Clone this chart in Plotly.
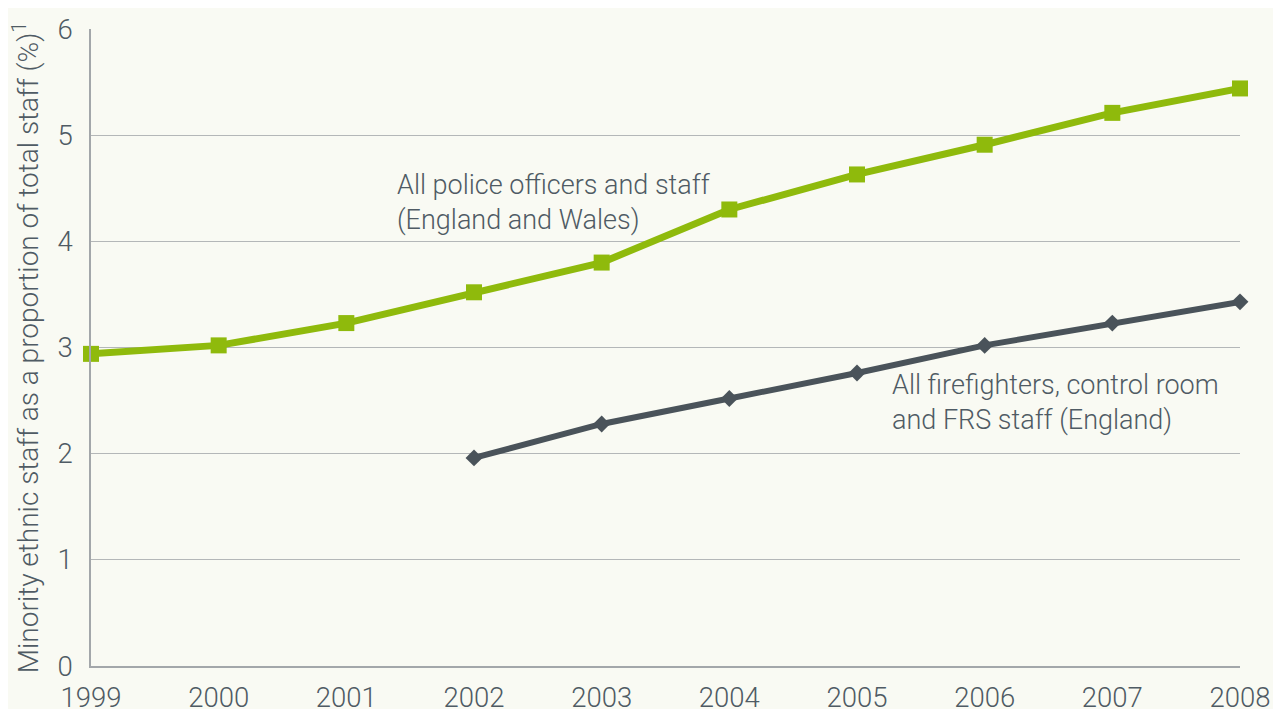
import plotly.graph_objects as go

years = [1999, 2000, 2001, 2002, 2003, 2004, 2005, 2006, 2007, 2008]
police = [2.94, 3.02, 3.23, 3.52, 3.80, 4.30, 4.63, 4.91, 5.21, 5.44]
fire_years = [2002, 2003, 2004, 2005, 2006, 2007, 2008]
fire = [1.96, 2.28, 2.52, 2.76, 3.02, 3.23, 3.43]
y_ticks = [0, 1, 2, 3, 4, 5, 6]

GREEN = "#8fba0c"
DARK = "#4a535a"
TEXT = "#4f5b64"
BG = "#f9faf3"
FONT = "Roboto"

fig = go.Figure()
fig.add_trace(go.Scatter(
    x=years, y=police, mode="lines+markers",
    line=dict(color=GREEN, width=7),
    marker=dict(symbol="square", size=16, color=GREEN),
    cliponaxis=False, showlegend=False))
fig.add_trace(go.Scatter(
    x=fire_years, y=fire, mode="lines+markers",
    line=dict(color=DARK, width=6),
    marker=dict(symbol="diamond", size=13, color=DARK),
    cliponaxis=False, showlegend=False))

fig.add_annotation(x=2001.38, y=4.37, xref="x", yref="y",
                   text="All police officers and staff<br>(England and Wales)",
                   showarrow=False, xanchor="left", yanchor="middle", align="left",
                   font=dict(family=FONT, size=27, color=TEXT, weight=300))
fig.add_annotation(x=2005.26, y=2.48, xref="x", yref="y",
                   text="All firefighters, control room<br>and FRS staff (England)",
                   showarrow=False, xanchor="left", yanchor="middle", align="left",
                   font=dict(family=FONT, size=27, color=TEXT, weight=300))

fig.update_layout(
    width=1281, height=709,
    margin=dict(l=83, r=49, t=21, b=51),
    paper_bgcolor=BG, plot_bgcolor=BG,
    font=dict(family=FONT, size=27, color=TEXT, weight=300),
    xaxis=dict(range=[1999, 2008], tickvals=years, ticktext=[str(y) for y in years],
               showgrid=False, zeroline=False, showline=True, linecolor="#a3a7aa",
               linewidth=1.5, ticks="", ticklabelstandoff=6, automargin=False,
               tickfont=dict(family=FONT, size=27.5, color=TEXT, weight=300)),
    yaxis=dict(range=[0, 6], tickvals=y_ticks, showgrid=True, gridcolor="#b4b7b8",
               gridwidth=1, zeroline=False, showline=True, linecolor="#a3a7aa",
               linewidth=1.5, ticks="", ticklabelstandoff=11, automargin=False,
               tickfont=dict(family=FONT, size=27.5, color=TEXT, weight=300),
               title=dict(text="Minority ethnic staff as a proportion of total staff (%)<sup>1</sup>",
                          standoff=12,
                          font=dict(family=FONT, size=28, color=TEXT, weight=300))),
)

fig.write_html("out.html")
